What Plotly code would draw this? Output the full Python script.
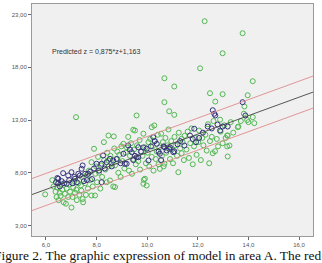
import plotly.graph_objects as go

# ---- data ----
green_x = [5.97, 6.25, 6.30, 6.38, 6.42, 6.45, 6.50, 6.48,
           6.55, 6.58, 6.62, 6.65, 6.70, 6.75, 6.79, 6.82, 6.88, 6.92, 6.95, 7.01,
           7.05, 7.08, 7.12, 7.15, 7.20, 7.22, 7.28, 7.32, 7.38, 7.42, 7.45, 7.47, 7.19, 7.40,
           7.55, 7.58, 7.62, 7.66, 7.70, 7.75, 7.80, 7.80, 7.85, 7.90, 7.94, 7.95, 7.98,
           8.02, 8.06, 8.10, 8.15, 8.18, 8.22, 8.29, 8.30, 8.35, 8.40, 8.42, 8.46, 8.47, 8.48,
           8.53, 8.55, 8.60, 8.66, 8.68, 8.70, 8.73, 8.73, 8.78, 8.82, 8.86, 8.90, 8.95, 8.98,
           9.02, 9.06, 9.10, 9.15, 9.20, 9.25, 9.28, 9.32, 9.36, 9.40, 9.45, 9.45, 9.48,
           9.52, 9.55, 9.58, 9.60, 9.65, 9.70, 9.72, 9.78, 9.82, 9.85, 9.85, 9.87, 9.91, 9.92, 9.95, 9.98,
           10.02, 10.05, 10.08, 10.12, 10.18, 10.18, 10.22, 10.25, 10.28, 10.30, 10.34, 10.38, 10.42, 10.45, 10.50, 10.48,
           10.55, 10.58, 10.62, 10.65, 10.68, 10.68, 10.68, 10.72, 10.75, 10.80, 10.84, 10.87, 10.90, 10.95, 10.98,
           11.02, 11.07, 11.07, 11.08, 11.12, 11.18, 11.23, 11.25, 11.30, 11.36, 11.36, 11.40, 11.45, 11.48,
           11.55, 11.60, 11.65, 11.70, 11.75, 11.80, 11.85, 11.90, 11.95, 12.09,
           12.02, 12.05, 12.12, 12.18, 12.22, 12.27, 12.30, 12.35, 12.40, 12.45, 12.48, 12.48,
           12.55, 12.59, 12.62, 12.68, 12.69, 12.75, 12.80, 12.88, 12.90, 12.98, 12.98, 12.98,
           13.05, 13.10, 13.18, 13.18, 13.25, 13.30, 13.40, 13.16, 13.16,
           13.58, 13.77, 13.84, 13.82, 13.95, 13.97, 14.00, 14.17, 14.17, 14.23, 13.70, 13.60]
green_y = [5.95, 7.3, 6.7, 6.2, 5.7, 6.6, 5.4, 7.0,
           6.1, 5.8, 6.9, 6.4, 5.2, 6.0, 5.06, 6.5, 5.7, 6.9, 6.2, 4.7,
           5.7, 6.6, 7.2, 6.1, 6.4, 5.4, 7.0, 5.9, 6.8, 7.6, 5.5, 5.2, 13.27, 6.3,
           7.0, 5.9, 7.8, 6.5, 8.2, 7.3, 5.84, 9.0, 6.7, 10.27, 5.84, 7.9, 8.6,
           7.1, 9.5, 8.0, 6.5, 8.7, 7.6, 10.9, 9.2, 8.3, 7.1, 9.9, 9.16, 11.53, 8.6,
           7.27, 9.6, 8.9, 6.7, 11.44, 10.3, 8.69, 6.64, 9.3, 10.0, 8.0, 9.7, 7.6, 10.5,
           9.1, 10.74, 8.4, 9.9, 10.4, 11.4, 8.2, 9.6, 10.8, 7.9, 12.07, 9.3, 10.2,
           12.0, 8.8, 13.43, 10.6, 9.1, 11.1, 8.3, 10.0, 9.6, 11.7, 6.95, 7.33, 7.43, 10.4, 8.9, 6.79,
           9.9, 10.9, 8.6, 11.2, 12.32, 9.5, 10.5, 8.2, 12.48, 11.0, 9.3, 10.0, 11.6, 8.8, 8.37, 10.4,
           11.7, 9.6, 10.9, 8.6, 16.96, 14.69, 8.85, 11.3, 9.9, 10.6, 12.1, 13.83, 9.3, 11.0, 10.2,
           8.9, 16.18, 13.49, 11.4, 10.6, 9.6, 8.05, 11.8, 10.3, 11.22, 9.85, 10.9, 9.2, 11.5,
           10.2, 11.9, 9.4, 10.8, 12.2, 8.8, 10.5, 11.3, 9.7, 17.9,
           10.9, 12.0, 9.2, 11.3, 10.6, 22.37, 11.6, 10.1, 12.6, 8.9, 15.54, 11.0,
           11.4, 9.85, 12.9, 10.04, 14.75, 11.2, 10.5, 13.03, 11.9, 10.8, 15.45, 19.33,
           12.5, 11.3, 11.53, 9.54, 10.58, 12.8, 11.8, 11.53, 10.49,
           12.32, 21.23, 14.28, 13.6, 13.0, 15.35, 12.8, 16.68, 13.27, 12.7, 12.9, 12.38]

navy_x = [6.40, 6.45, 6.49, 6.49, 6.55, 6.62, 6.68, 6.72, 6.82, 6.88, 6.92, 7.01, 7.05, 7.12,
          7.15, 7.22, 7.28, 7.34, 7.41, 7.45, 7.50, 7.55, 7.62, 7.67, 7.75, 7.82, 7.90, 8.00,
          8.10, 8.20, 8.20, 8.26, 8.32, 8.40, 8.53, 8.60, 8.66, 8.80, 8.95,
          9.06, 9.12, 9.19, 9.25, 9.32, 9.39, 9.45, 9.52, 9.58, 9.65, 9.65, 9.75, 9.85, 9.98,
          10.05, 10.15, 10.24, 10.30, 10.38, 10.45, 10.50, 10.55, 10.65, 10.68, 10.77, 10.87,
          10.90, 11.03, 11.07, 11.20, 11.30, 11.47, 11.69, 11.80, 11.86, 11.93, 12.05, 12.20,
          12.39, 12.55, 12.59, 12.65, 12.69, 12.78, 12.88, 12.98, 13.18, 13.77, 13.88]
navy_y = [7.1, 7.5, 7.43, 7.0, 6.7, 7.2, 7.96, 7.0, 6.95, 7.74, 7.3, 8.05, 7.0, 7.6,
          7.43, 7.1, 7.9, 7.74, 8.37, 8.69, 7.2, 7.9, 7.3, 7.9, 8.1, 7.4, 8.4, 8.85,
          8.2, 8.85, 7.1, 9.64, 8.4, 9.0, 9.32, 8.6, 9.16, 9.3, 8.9,
          9.8, 8.85, 8.85, 10.58, 10.2, 9.95, 9.2, 9.6, 9.47, 10.42, 9.47, 10.0, 10.4, 10.27,
          9.16, 10.5, 11.37, 11.0, 10.74, 10.0, 9.8, 9.2, 10.5, 10.42, 10.11, 10.27,
          10.4, 9.95, 10.04, 10.7, 11.0, 10.58, 11.53, 11.2, 12.17, 10.9, 11.3, 11.8,
          12.38, 12.2, 13.93, 13.59, 13.43, 12.57, 12.0, 12.38, 12.38, 14.69, 13.43]

slope = 0.875
intercept = 1.163
band_half = 1.52
x_range = [5.45, 16.55]

x_ticks = [6, 8, 10, 12, 14, 16]
x_tick_text = ["6,0", "8,0", "10,0", "12,0", "14,0", "16,0"]
y_ticks = [3, 8, 13, 18, 23]
y_tick_text = ["3,00", "8,00", "13,00", "18,00", "23,00"]

fit_y = [slope * v + intercept for v in x_range]

fig = go.Figure()
fig.add_trace(go.Scatter(x=green_x, y=green_y, mode="markers",
                         marker=dict(symbol="circle-open", size=5, color="#52b852",
                                     line=dict(width=1))))
fig.add_trace(go.Scatter(x=navy_x, y=navy_y, mode="markers",
                         marker=dict(symbol="circle-open", size=5, color="#33307c",
                                     line=dict(width=1))))
fig.add_trace(go.Scatter(x=x_range, y=[v + band_half for v in fit_y], mode="lines",
                         line=dict(color="#e08a8a", width=0.9)))
fig.add_trace(go.Scatter(x=x_range, y=[v - band_half for v in fit_y], mode="lines",
                         line=dict(color="#e08a8a", width=0.9)))
fig.add_trace(go.Scatter(x=x_range, y=fit_y, mode="lines",
                         line=dict(color="#444444", width=0.9)))

fig.add_annotation(x=6.16, y=19.5, xref="x", yref="y", text="Predicted z = 0,875*z+1,163",
                   showarrow=False, xanchor="left", yanchor="middle",
                   font=dict(family="Liberation Sans, Arial", size=7, color="#333333"))
fig.add_annotation(x=0.445, y=-0.085, xref="paper", yref="paper",
                   text="Figure 2. The graphic expression of model in area A. The red",
                   showarrow=False, xanchor="center", yanchor="middle",
                   font=dict(family="Liberation Serif, Times New Roman", size=13.4, color="#111111"))

axis_common = dict(showgrid=False, zeroline=False, showline=True, mirror=True,
                   linecolor="#9a9a9a", linewidth=1, ticks="outside", ticklen=3,
                   tickcolor="#666666", tickfont=dict(family="Liberation Sans, Arial",
                                                      size=6, color="#555555"))
fig.update_xaxes(range=x_range, tickvals=x_ticks, ticktext=x_tick_text, **axis_common)
fig.update_yaxes(range=[2, 24], tickvals=y_ticks, ticktext=y_tick_text, **axis_common)

fig.update_layout(width=322, height=263, margin=dict(l=32, r=9, t=4, b=27),
                  plot_bgcolor="#f0f0f0", paper_bgcolor="white", showlegend=False)

fig.write_html("out.html")
